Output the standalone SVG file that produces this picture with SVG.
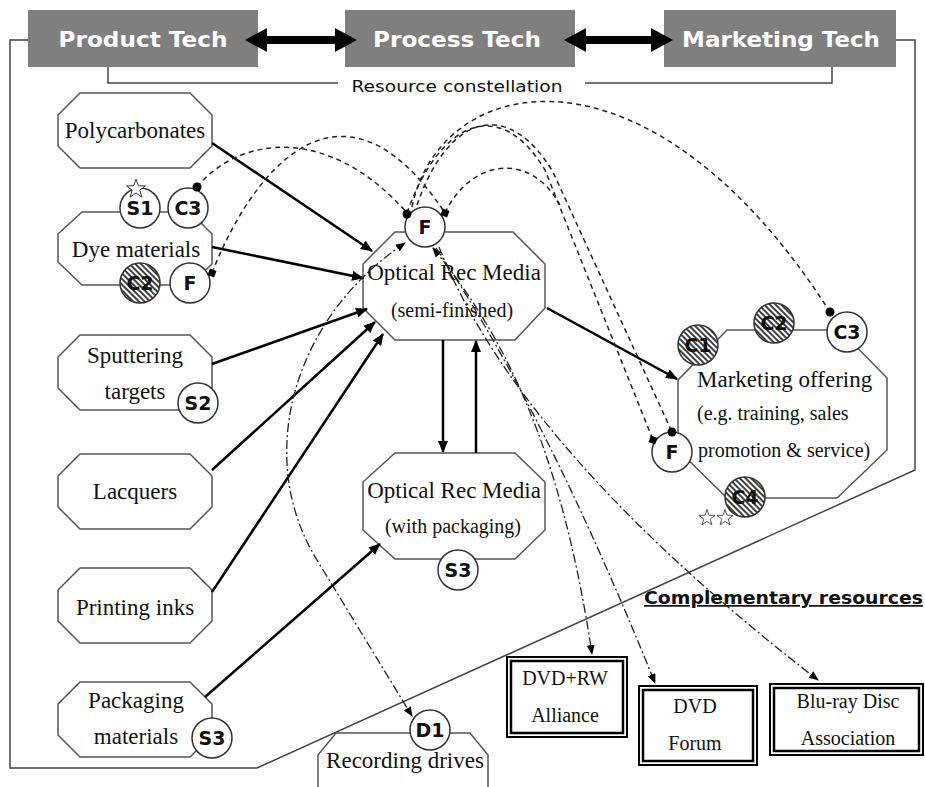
<svg xmlns="http://www.w3.org/2000/svg" width="925" height="787" viewBox="0 0 925 787">
<style>
.oct{fill:#fff;stroke:#555;stroke-width:1.5}
.cw{fill:#fff;stroke:#333;stroke-width:1.5}
.ch{fill:url(#hatch);stroke:#333;stroke-width:1.5}
.lbl{font-family:"Liberation Serif","Times New Roman",serif;font-size:23px;fill:#111;text-anchor:middle}
.sub{font-size:20px}
.lft{text-anchor:start}
.badge{font-family:"DejaVu Sans",Verdana,sans-serif;font-weight:bold;font-size:19px;fill:#111;text-anchor:middle}
.hdr{font-family:"DejaVu Sans",Verdana,sans-serif;font-weight:bold;font-size:22px;fill:#fff;text-anchor:middle}
.hbox{fill:#7f7f7f}
.bound{fill:none;stroke:#444;stroke-width:1.5}
.solid{fill:none;stroke:#000;stroke-width:2.5;marker-end:url(#ah)}
.dash{fill:none;stroke:#222;stroke-width:1.5;stroke-dasharray:5 4}
.dd{fill:none;stroke:#222;stroke-width:1.3;stroke-dasharray:9 3 2 3}
.star{fill:#fff;stroke:#333;stroke-width:1}
.box1{fill:#fff;stroke:#000;stroke-width:2}
.box2{fill:none;stroke:#000;stroke-width:2.5}
</style>
<defs>
<pattern id="hatch" patternUnits="userSpaceOnUse" width="4" height="4" patternTransform="rotate(-45)">
<rect width="4" height="4" fill="#fff"/>
<line x1="1" y1="0" x2="1" y2="4" stroke="#000" stroke-width="1.5"/>
</pattern>
<marker id="ah" viewBox="0 0 12 10" refX="11" refY="5" markerWidth="12" markerHeight="10" markerUnits="userSpaceOnUse" orient="auto">
<path d="M0,0 L12,5 L0,10 z" fill="#000"/>
</marker>
<marker id="as" viewBox="0 0 10 8" refX="9" refY="4" markerWidth="10" markerHeight="8" markerUnits="userSpaceOnUse" orient="auto-start-reverse">
<path d="M0,0 L10,4 L0,8 z" fill="#000"/>
</marker>
<polygon id="starshape" points="0,-10 2.35,-3.24 9.51,-3.09 3.8,1.24 5.88,8.09 0,4 -5.88,8.09 -3.8,1.24 -9.51,-3.09 -2.35,-3.24"/>
</defs>
<rect width="925" height="787" fill="#fff"/>

<!-- boundary of resource constellation -->
<g id="boundary">
<polyline class="bound" points="28,40 10,40 10,768 257,768 915,470 915,40 896,40"/>
<polyline class="bound" points="108,67 108,83 338,83"/>
<polyline class="bound" points="585,83 832,83 832,67"/>
<text x="457" y="92" font-family="DejaVu Sans, Verdana, sans-serif" font-size="15" fill="#111" text-anchor="middle" textLength="211" lengthAdjust="spacingAndGlyphs">Resource constellation</text>
</g>

<!-- header boxes -->
<g id="product-tech"><rect class="hbox" x="28" y="10" width="230" height="57"/><text class="hdr" x="143" y="47" textLength="169" lengthAdjust="spacingAndGlyphs">Product Tech</text></g>
<g id="process-tech"><rect class="hbox" x="345" y="10" width="230" height="57"/><text class="hdr" x="457" y="47" textLength="168" lengthAdjust="spacingAndGlyphs">Process Tech</text></g>
<g id="marketing-tech"><rect class="hbox" x="664" y="10" width="232" height="57"/><text class="hdr" x="781" y="47" textLength="198" lengthAdjust="spacingAndGlyphs">Marketing Tech</text></g>

<!-- left column -->
<g id="polycarbonates">
<polygon class="oct" points="80,93 190,93 212,115 212,146 190,168 80,168 58,146 58,115"/>
<text class="lbl" x="135" y="138">Polycarbonates</text>
</g>
<g id="dye-materials">
<polygon class="oct" points="82,212 190,212 212,234 212,264 190,285 82,285 58,262 58,234"/>
<text class="lbl" x="136" y="257">Dye materials</text>
<circle class="cw" cx="140" cy="208" r="20"/><text class="badge" x="140" y="215">S1</text>
<circle class="cw" cx="188" cy="208" r="20"/><text class="badge" x="188" y="215">C3</text>
<circle class="ch" cx="140" cy="283" r="20"/><text class="badge" x="140" y="290">C2</text>
<circle class="cw" cx="190" cy="283" r="20"/><text class="badge" x="190" y="290">F</text>
<use href="#starshape" class="star" transform="translate(136,189)"/>
</g>
<g id="sputtering-targets">
<polygon class="oct" points="80,335 190,335 212,357 212,388 190,410 80,410 58,388 58,357"/>
<text class="lbl" x="135" y="363">Sputtering</text>
<text class="lbl" x="135" y="399">targets</text>
<circle class="cw" cx="198" cy="403" r="20"/><text class="badge" x="198" y="410">S2</text>
</g>
<g id="lacquers">
<polygon class="oct" points="80,454 190,454 212,476 212,507 190,529 80,529 58,507 58,476"/>
<text class="lbl" x="135" y="499">Lacquers</text>
</g>
<g id="printing-inks">
<polygon class="oct" points="80,568 190,568 212,590 212,621 190,643 80,643 58,621 58,590"/>
<text class="lbl" x="135" y="615">Printing inks</text>
</g>
<g id="packaging-materials">
<polygon class="oct" points="80,682 190,682 212,704 212,735 190,757 80,757 58,735 58,704"/>
<text class="lbl" x="136" y="708">Packaging</text>
<text class="lbl" x="136" y="744">materials</text>
<circle class="cw" cx="212" cy="738" r="20"/><text class="badge" x="212" y="745">S3</text>
</g>
<g id="recording-drives">
<polygon class="oct" points="336,733 470,733 488,755 488,800 470,820 336,820 318,800 318,755"/>
<text class="lbl" x="405" y="768">Recording drives</text>
<circle class="cw" cx="430" cy="730" r="20"/><text class="badge" x="430" y="737">D1</text>
</g>

<!-- central -->
<g id="orm-semi">
<polygon class="oct" points="395,232 513,232 545,264 545,308 515,340 395,340 363,308 363,264"/>
<text class="lbl" x="454" y="280">Optical Rec Media</text>
<text class="lbl sub" x="452" y="317">(semi-finished)</text>
<circle class="cw" cx="425" cy="227" r="20"/><text class="badge" x="425" y="234">F</text>
</g>
<g id="orm-pkg">
<polygon class="oct" points="395,453 515,453 545,482 545,530 515,559 395,559 363,530 363,482"/>
<text class="lbl" x="454" y="498">Optical Rec Media</text>
<text class="lbl sub" x="453" y="533">(with packaging)</text>
<circle class="cw" cx="458" cy="570" r="20"/><text class="badge" x="458" y="577">S3</text>
</g>

<!-- marketing offering -->
<g id="marketing-offering">
<polygon class="oct" points="678,380 727,330 840,330 887,378 887,450 837,498 727,498 678,450"/>
<text class="lbl lft" x="697" y="387">Marketing offering</text>
<text class="lbl sub lft" x="697" y="420">(e.g. training, sales</text>
<text class="lbl sub lft" x="698" y="457">promotion &amp; service)</text>
<circle class="ch" cx="698" cy="345" r="20"/><text class="badge" x="698" y="352">C1</text>
<circle class="ch" cx="774" cy="323" r="20"/><text class="badge" x="774" y="330">C2</text>
<circle class="cw" cx="847" cy="332" r="20"/><text class="badge" x="847" y="339">C3</text>
<circle class="cw" cx="672" cy="452" r="20"/><text class="badge" x="672" y="459">F</text>
<circle class="ch" cx="745" cy="497" r="20"/><text class="badge" x="745" y="504">C4</text>
<use href="#starshape" class="star" transform="translate(707,518) scale(0.85)"/>
<use href="#starshape" class="star" transform="translate(725,518) scale(0.85)"/>
</g>

<!-- complementary resources -->
<text id="complementary-label" x="644" y="604" font-family="DejaVu Sans, Verdana, sans-serif" font-weight="bold" font-size="17" fill="#111" text-decoration="underline" textLength="279" lengthAdjust="spacingAndGlyphs">Complementary resources</text>
<g id="dvdrw-alliance">
<rect class="box1" x="507" y="657" width="120" height="80"/>
<rect class="box2" x="511" y="661" width="112" height="72"/>
<text class="lbl sub" x="565" y="685">DVD+RW</text>
<text class="lbl sub" x="565" y="722">Alliance</text>
</g>
<g id="dvd-forum">
<rect class="box1" x="639" y="686" width="118" height="79"/>
<rect class="box2" x="643" y="690" width="110" height="71"/>
<text class="lbl sub" x="695" y="713">DVD</text>
<text class="lbl sub" x="695" y="750">Forum</text>
</g>
<g id="bluray-association">
<rect class="box1" x="770" y="684" width="153" height="71"/>
<rect class="box2" x="774" y="688" width="145" height="63"/>
<text class="lbl sub" x="848" y="708">Blu-ray Disc</text>
<text class="lbl sub" x="848" y="745">Association</text>
</g>

<!-- connectors -->
<g id="connectors">
<!-- thick double arrows between header boxes -->
<polygon points="245,40 267,28 267,36 335,36 335,28 357,40 335,52 335,44 267,44 267,52" fill="#000"/>
<polygon points="564,40 586,28 586,36 651,36 651,28 673,40 651,52 651,44 586,44 586,52" fill="#000"/>
<!-- solid flows -->
<path class="solid" d="M212,143 L372,251"/>
<path class="solid" d="M212,247 L363,278"/>
<path class="solid" d="M212,364 L367,309"/>
<path class="solid" d="M212,470 L375,322"/>
<path class="solid" d="M212,592 L383,334"/>
<path class="solid" d="M205,697 L380,544"/>
<path class="solid" d="M547,308 L677,379"/>
<path class="solid" d="M443,340 L443,452"/>
<path class="solid" d="M476,453 L476,341"/>
<!-- dashed knowledge links -->
<path class="dash" d="M197,187 C240,135 330,125 407,213"/>
<path class="dash" d="M212,273 C250,175 340,55 445,213"/>
<path class="dash" d="M412,207 C440,70 650,30 830,312"/>
<path class="dash" d="M407,213 C440,120 500,95 545,170 L653,440"/>
<path class="dash" d="M417,205 C450,110 510,100 553,172 L672,432"/>
<path class="dash" d="M445,213 C470,160 530,150 560,205"/>
<circle cx="197" cy="187" r="4.5" fill="#000"/>
<circle cx="407" cy="214" r="4.5" fill="#000"/>
<circle cx="830" cy="312" r="4.5" fill="#000"/>
<circle cx="672" cy="432" r="4.5" fill="#000"/>
<rect x="-3.5" y="-3.5" width="7" height="7" fill="#000" transform="translate(212,273) rotate(20)"/>
<rect x="-3.5" y="-3.5" width="7" height="7" fill="#000" transform="translate(445,213) rotate(20)"/>
<rect x="-3.5" y="-3.5" width="7" height="7" fill="#000" transform="translate(653,440) rotate(20)"/>
<!-- dash-dot links to complementary resources -->
<path class="dd" d="M405,243 C290,320 255,460 317,560 L412,716" marker-start="url(#as)" marker-end="url(#as)"/>
<path class="dd" d="M433,248 C500,330 560,440 592,654" marker-start="url(#as)" marker-end="url(#as)"/>
<path class="dd" d="M436,248 Q545,410 655,683" marker-end="url(#as)"/>
<path class="dd" d="M439,247 Q520,450 818,680" marker-end="url(#as)"/>
</g>
</svg>
